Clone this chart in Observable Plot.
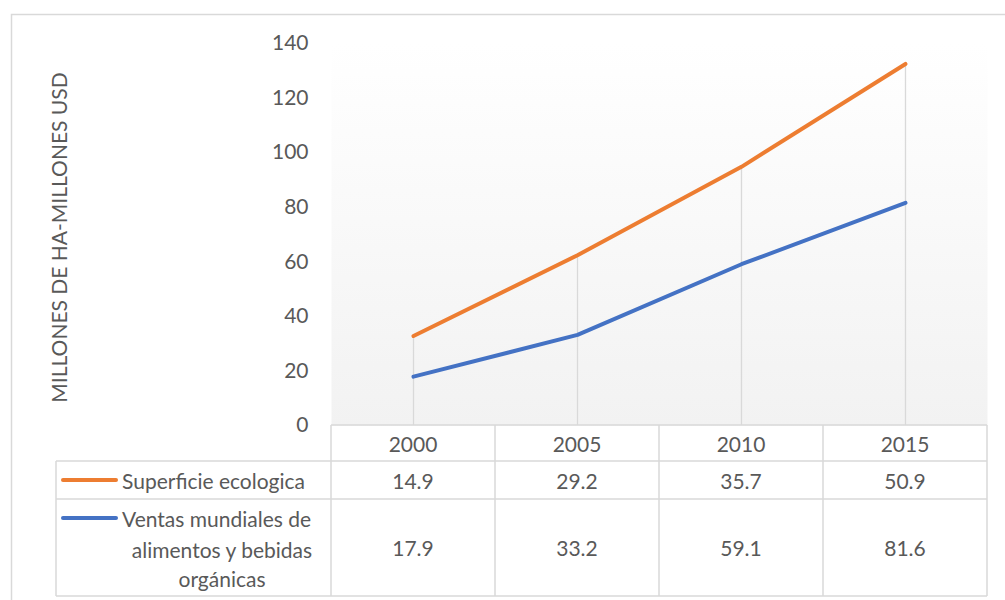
<!DOCTYPE html>
<html><head><meta charset="utf-8">
<script src="https://cdn.jsdelivr.net/npm/d3@7"></script>
<script src="https://cdn.jsdelivr.net/npm/@observablehq/plot@0.6"></script>
<style>body{margin:0;background:#fff;overflow:hidden}</style>
</head><body><div id="chart"></div>
<script>
const years = ["2000", "2005", "2010", "2015"];
const superficie = [14.9, 29.2, 35.7, 50.9];
const ventas = [17.9, 33.2, 59.1, 81.6];
const seriesNames = ["Superficie ecologica", "Ventas mundiales de alimentos y bebidas orgánicas"];
const legendLines = [["Superficie ecologica"], ["Ventas mundiales de", "alimentos y bebidas", "orgánicas"]];
const seriesColors = ["#ED7D31", "#4472C4"];
const yTicks = [0, 20, 40, 60, 80, 100, 120, 140];
const yTitle = "MILLONES DE HA-MILLONES USD";

const long = [];
years.forEach((yr, i) => {
  long.push({year: yr, series: seriesNames[1], value: ventas[i]});
  long.push({year: yr, series: seriesNames[0], value: superficie[i]});
});
const totals = years.map((yr, i) => ({year: yr, top: superficie[i] + ventas[i]}));

const font = "Lato, 'Open Sans', sans-serif";
const textColor = "#595959";
const gridColor = "#d9d9d9";
const fs = 21;

const plot = Plot.plot({
  width: 1005, height: 600,
  marginLeft: 331, marginRight: 18, marginTop: 43, marginBottom: 175,
  style: {fontFamily: font, fontSize: fs + "px", color: textColor, background: "#fff", overflow: "visible"},
  x: {type: "point", domain: years, padding: 0.5, axis: null},
  y: {domain: [0, 140], axis: null},
  color: {domain: seriesNames, range: seriesColors},
  marks: [
    Plot.frame({fill: "url(#plotBg)", stroke: null}),
    Plot.ruleX(totals, {x: "year", y1: 0, y2: "top", stroke: gridColor, strokeWidth: 1.3}),
    Plot.line(long, Plot.stackY2({x: "year", y: "value", z: "series", order: [seriesNames[1], seriesNames[0]],
      stroke: "series", strokeWidth: 4, strokeLinecap: "round", strokeLinejoin: "round"})),
    Plot.axisY({ticks: yTicks, tickSize: 0, tickPadding: 23, fill: textColor, fontSize: fs, label: null}),
    Plot.text([yTitle], {frameAnchor: "left", dx: -271, dy: 3, rotate: -90, textAnchor: "middle", lineAnchor: "middle",
      text: d => d, fill: textColor, fontSize: fs})
  ]
});
document.getElementById("chart").appendChild(plot);

const svg = d3.select(plot);
const defs = svg.insert("defs", ":first-child");
const grad = defs.append("linearGradient").attr("id", "plotBg").attr("x1", 0).attr("y1", 0).attr("x2", 0).attr("y2", 1);
grad.append("stop").attr("offset", "0%").attr("stop-color", "#ffffff");
grad.append("stop").attr("offset", "100%").attr("stop-color", "#f2f2f2");

const xs = plot.scale("x");
const ys = plot.scale("y");
const step = xs.apply(years[1]) - xs.apply(years[0]);
const colLeft = xs.apply(years[0]) - step / 2;
const colRight = xs.apply(years[years.length - 1]) + step / 2;
const yTop = ys.apply(0);
const rowY = [yTop, yTop + 36, yTop + 74, yTop + 171];
const legendLeft = 56;

const g = svg.append("g").attr("font-family", font).attr("font-size", fs).attr("fill", textColor).attr("text-anchor", "start");
// outer border
g.append("rect").attr("x", 11.5).attr("y", 14.5).attr("width", 1100).attr("height", 700)
  .attr("fill", "none").attr("stroke", gridColor).attr("stroke-width", 1.5);
// horizontal table lines
g.append("line").attr("x1", colLeft).attr("x2", colRight).attr("y1", rowY[0]).attr("y2", rowY[0])
  .attr("stroke", gridColor).attr("stroke-width", 1.5);
for (let k = 1; k < rowY.length; k++) {
  g.append("line").attr("x1", legendLeft).attr("x2", colRight).attr("y1", rowY[k]).attr("y2", rowY[k])
    .attr("stroke", gridColor).attr("stroke-width", 1.5);
}
// vertical table lines
g.append("line").attr("x1", legendLeft).attr("x2", legendLeft).attr("y1", rowY[1]).attr("y2", rowY[3])
  .attr("stroke", gridColor).attr("stroke-width", 1.5);
for (let k = 0; k <= years.length; k++) {
  const x = colLeft + k * step;
  g.append("line").attr("x1", x).attr("x2", x).attr("y1", rowY[0]).attr("y2", rowY[3])
    .attr("stroke", gridColor).attr("stroke-width", 1.5);
}
// header & values
const seriesValues = [superficie, ventas];
years.forEach((yr, i) => {
  const cx = xs.apply(yr);
  g.append("text").attr("x", cx).attr("y", (rowY[0] + rowY[1]) / 2).attr("text-anchor", "middle")
    .attr("dominant-baseline", "central").text(yr);
  seriesValues.forEach((vals, s) => {
    g.append("text").attr("x", cx).attr("y", (rowY[s + 1] + rowY[s + 2]) / 2).attr("text-anchor", "middle")
      .attr("dominant-baseline", "central").text(vals[i].toFixed(1));
  });
});
// legend keys
const keyY = [rowY[1] + 19, rowY[2] + 19];
seriesColors.forEach((c, s) => {
  g.append("line").attr("x1", 63).attr("x2", 116).attr("y1", keyY[s]).attr("y2", keyY[s])
    .attr("stroke", c).attr("stroke-width", 4).attr("stroke-linecap", "round");
});
g.append("text").attr("x", 122).attr("y", keyY[0]).attr("text-anchor", "start").attr("dominant-baseline", "central").text(legendLines[0][0]);
g.append("text").attr("x", 122).attr("y", keyY[1]).attr("text-anchor", "start").attr("dominant-baseline", "central").text(legendLines[1][0]);
g.append("text").attr("x", 222).attr("y", keyY[1] + 31).attr("text-anchor", "middle").attr("dominant-baseline", "central").text(legendLines[1][1]);
g.append("text").attr("x", 222).attr("y", keyY[1] + 60).attr("text-anchor", "middle").attr("dominant-baseline", "central").text(legendLines[1][2]);
</script></body></html>
